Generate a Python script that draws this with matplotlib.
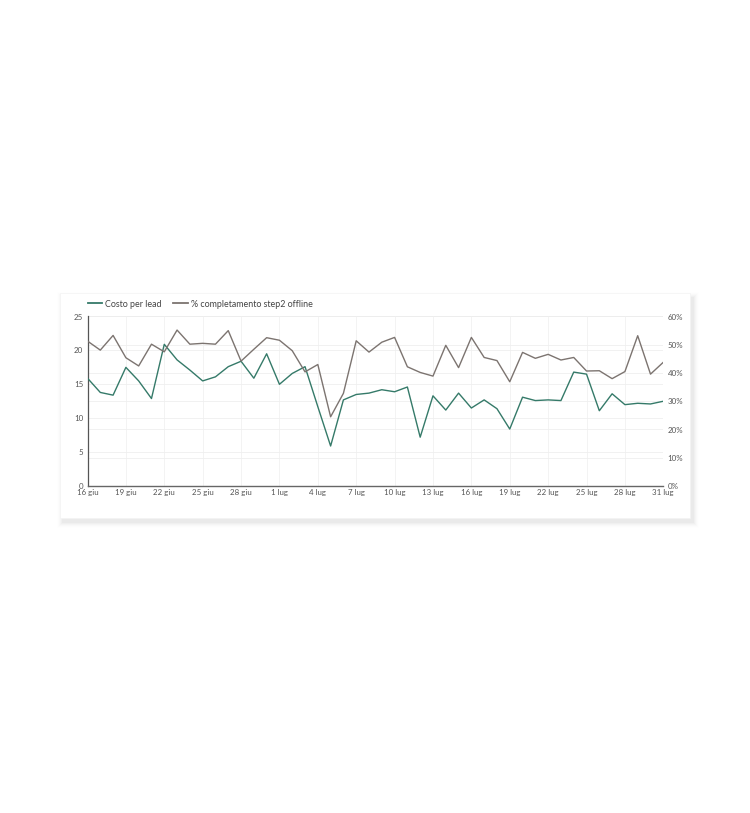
import matplotlib
matplotlib.use("Agg")
import matplotlib.pyplot as plt
from matplotlib.patches import FancyBboxPatch
from matplotlib.lines import Line2D

plt.rcParams['font.family'] = ['Lato', 'DejaVu Sans']

# ---- data ----
day_offsets = list(range(46))  # 16 giu .. 31 lug
tick_days = [0, 3, 6, 9, 12, 15, 18, 21, 24, 27, 30, 33, 36, 39, 42, 45]
tick_labels = ["16 giu", "19 giu", "22 giu", "25 giu", "28 giu", "1 lug", "4 lug",
               "7 lug", "10 lug", "13 lug", "16 lug", "19 lug", "22 lug", "25 lug",
               "28 lug", "31 lug"]
costo_per_lead = [15.9, 13.8, 13.4, 17.5, 15.5, 12.9, 20.9, 18.6, 17.1, 15.5,
                  16.1, 17.6, 18.4, 15.9, 19.5, 15.0, 16.6, 17.6, 11.7, 5.9,
                  12.7, 13.5, 13.7, 14.2, 13.9, 14.6, 7.2, 13.3, 11.2, 13.7,
                  11.5, 12.7, 11.4, 8.4, 13.1, 12.6, 12.7, 12.6, 16.8, 16.5,
                  11.1, 13.6, 12.0, 12.2, 12.1, 12.5]
completamento = [51.3, 48.1, 53.3, 45.4, 42.5, 50.2, 47.5, 55.2, 50.2, 50.5,
                 50.2, 55.0, 44.2, 48.4, 52.5, 51.6, 47.9, 40.4, 43.0, 24.5,
                 32.8, 51.4, 47.4, 50.9, 52.6, 42.2, 40.2, 38.9, 49.8, 41.9,
                 52.6, 45.5, 44.4, 36.9, 47.3, 45.2, 46.6, 44.6, 45.5, 40.7,
                 40.8, 38.0, 40.5, 53.2, 39.6, 43.8]
left_ticks = [0, 5, 10, 15, 20, 25]
right_ticks = [0, 10, 20, 30, 40, 50, 60]

green = "#357a69"
gray = "#7c7470"
txt = "#555555"

fig = plt.figure(figsize=(7.5, 8.13), dpi=100)
fig.patch.set_facecolor("white")

W, H = 750, 813
def fx(px):
    return px / W
def fy(py):
    return 1 - py / H

# card shadow (soft, mostly below)
for i, a in enumerate([0.005, 0.008, 0.011, 0.014, 0.018, 0.022]):
    grow = (6 - i) * 1.0
    fig.patches.append(FancyBboxPatch(
        (fx(62 - grow + 1), fy(522 + grow)), fx(630 + 2 * grow), (224 + 2 * grow) / H,
        boxstyle="square,pad=0", transform=fig.transFigure,
        facecolor="black", edgecolor="none", alpha=a, zorder=0))
fig.patches.append(FancyBboxPatch(
    (fx(60), fy(518)), fx(630), 225 / H,
    boxstyle="square,pad=0", transform=fig.transFigure,
    facecolor="white", edgecolor="#f3f3f3", linewidth=0.5, zorder=1))

ax = fig.add_axes([fx(87.5), fy(486), fx(663.3 - 87.5), (486 - 316.5) / H], zorder=2)
ax.patch.set_alpha(0)
ax2 = ax.twinx()

# faint gridlines (all on the lower axes)
for v in left_ticks[1:]:
    ax.axhline(v, color="#ececec", lw=0.5, zorder=0)
for v in right_ticks[1:]:
    ax.axhline(v * 25 / 60, color="#ececec", lw=0.5, zorder=0)
for d in tick_days[1:]:
    ax.axvline(d, color="#efefef", lw=0.5, zorder=0)

ax.plot(day_offsets, costo_per_lead, color=green, lw=1.0, zorder=3)
ax2.plot(day_offsets, completamento, color=gray, lw=1.0, zorder=3)

ax.set_xlim(0, 45)
ax.set_ylim(0, 25)
ax2.set_ylim(0, 60)
ax.set_yticks(left_ticks)
ax.set_yticklabels([str(v) for v in left_ticks])
ax2.set_yticks(right_ticks)
ax2.set_yticklabels([f"{v}%" for v in right_ticks])
ax.set_xticks(tick_days)
ax.set_xticklabels(tick_labels)

for a in (ax, ax2):
    a.tick_params(length=0, labelsize=5.7, labelcolor=txt, pad=3)
    for s in ("top", "right", "left", "bottom"):
        a.spines[s].set_visible(False)
ax.spines["left"].set_visible(True)
ax.spines["left"].set_color("#555555")
ax.spines["left"].set_linewidth(0.9)
ax.spines["bottom"].set_visible(True)
ax.spines["bottom"].set_color("#666666")
ax.spines["bottom"].set_linewidth(1.0)
ax.tick_params(axis="x", pad=2)

handles = [Line2D([], [], color=green, lw=1.3), Line2D([], [], color=gray, lw=1.3)]
fig.legend(handles, ["Costo per lead", "% completamento step2 offline"],
           loc="center left", bbox_to_anchor=(fx(80), fy(304)), ncol=2, frameon=False,
           fontsize=6.4, handlelength=1.6, handletextpad=0.35, columnspacing=1.3,
           labelcolor="#444444")

fig.savefig("out.png", dpi=100, facecolor="white")
